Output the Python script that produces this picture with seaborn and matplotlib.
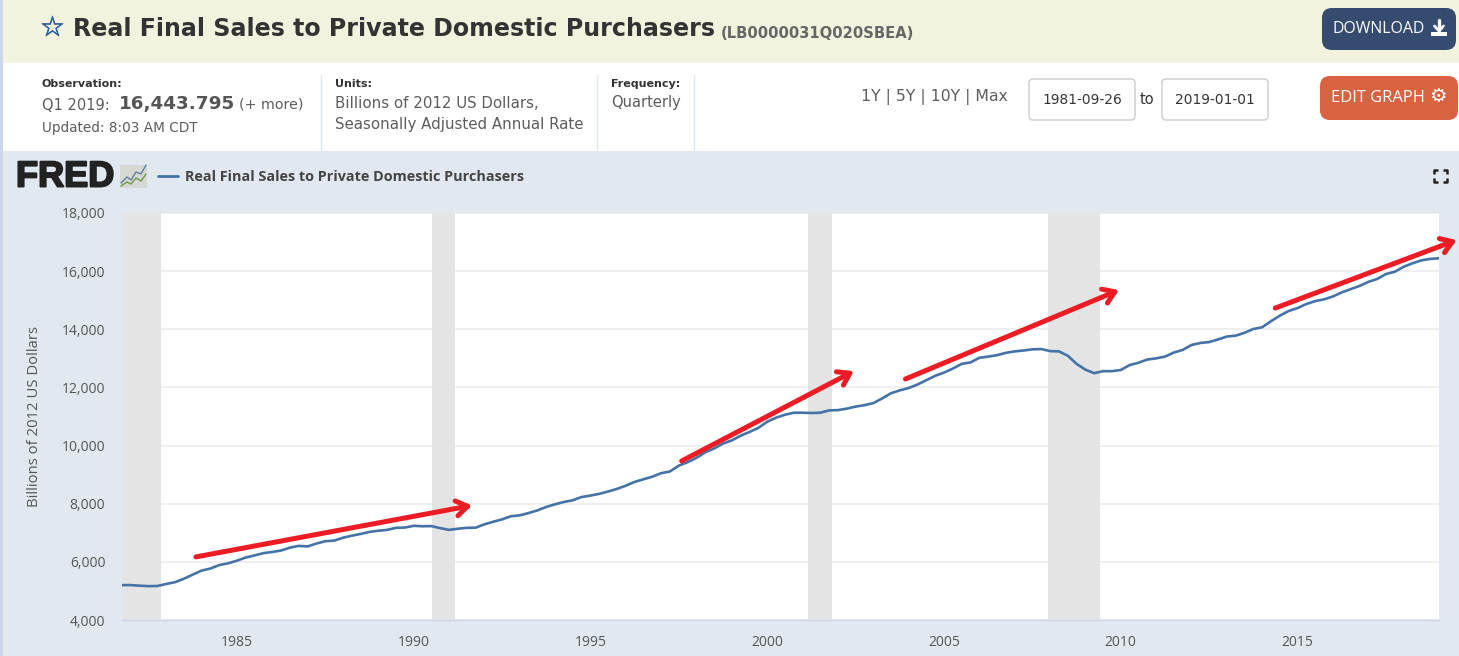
import numpy as np
import pandas as pd
import matplotlib
matplotlib.use("Agg")
import matplotlib.pyplot as plt
import matplotlib.patheffects as pe
from matplotlib.patches import FancyBboxPatch, Rectangle
import seaborn as sns

# Quarterly values, 1981 Q4 to 2019 Q1
sales = [
    5200,
    5200, 5180, 5165, 5170, 5240, 5300, 5420, 5560,
    5700, 5770, 5890, 5950, 6040, 6150, 6220, 6300,
    6340, 6390, 6490, 6550, 6530, 6630, 6710, 6730,
    6830, 6900, 6960, 7030, 7070, 7100, 7170, 7180,
    7240, 7225, 7230, 7160, 7100, 7140, 7170, 7175,
    7290, 7380, 7460, 7570, 7600, 7680, 7770, 7890,
    7980, 8060, 8120, 8230, 8280, 8340, 8420, 8510,
    8620, 8750, 8840, 8930, 9050, 9110, 9310, 9430,
    9580, 9770, 9900, 10070, 10180, 10340, 10470, 10610,
    10820, 10960, 11060, 11130, 11130, 11120, 11130, 11210,
    11220, 11270, 11340, 11390, 11460, 11620, 11800, 11900,
    11980, 12100, 12250, 12400, 12510, 12650, 12810, 12860,
    13020, 13060, 13110, 13190, 13240, 13270, 13310, 13320,
    13250, 13240, 13090, 12810, 12610, 12490, 12560, 12560,
    12600, 12770, 12850, 12960, 13000, 13060, 13200, 13290,
    13460, 13530, 13560, 13650, 13750, 13780, 13880, 14010,
    14070, 14280, 14470, 14630, 14730, 14870, 14970, 15030,
    15130, 15270, 15380, 15490, 15630, 15730, 15900, 15980,
    16150, 16270, 16370, 16420, 16444,
]
first_year = 1981.75

recession_start = [1981.75, 1990.53, 2001.15, 2007.93]
recession_end = [1982.85, 1991.17, 2001.82, 2009.42]

# Hand drawn red arrows, in chart units
arrow_x0 = [1983.84, 1997.58, 2003.91, 2014.37]
arrow_y0 = [6170, 9470, 12290, 14730]
arrow_x1 = [1991.65, 2002.45, 2009.95, 2019.5]
arrow_y1 = [7940, 12560, 15350, 17070]

x_ticks = [1985, 1990, 1995, 2000, 2005, 2010, 2015]
y_ticks = [4000, 6000, 8000, 10000, 12000, 14000, 16000, 18000]

W, H = 1459, 656
BODY = "DejaVu Sans"
GREY = "#5c5c5c"
DARK = "#333333"

sns.set_theme(style="white")
plt.rcParams["font.family"] = [BODY]

fig = plt.figure(figsize=(W / 100, H / 100), dpi=100, facecolor="white")

# Page furniture, drawn in pixel coordinates
page = fig.add_axes([0, 0, 1, 1], zorder=0)
page.set_xlim(0, W)
page.set_ylim(H, 0)
page.axis("off")

page.add_patch(Rectangle((3, 0), W, 63, color="#f2f3de", lw=0))
page.add_patch(Rectangle((3, 151), W, H - 151, color="#e1e8ef", lw=0))
page.add_patch(Rectangle((0, 0), 3, H, color="#ccd6e8", lw=0))
for x in [321, 597, 694]:
    page.plot([x, x], [75, 151], color="#e1e8ef", lw=1)


def txt(x, y, s, size, color=GREY, weight="normal", ha="left", family=BODY):
    return page.text(x, y, s, fontsize=size, color=color, fontweight=weight, ha=ha,
                     va="center", family=family)


def button(x, y, w, h, color, radius=10, edge="none"):
    page.add_patch(FancyBboxPatch((x + radius, y + radius), w - 2 * radius, h - 2 * radius,
                                  boxstyle="round,pad=%d" % radius, fc=color, ec=edge, lw=1))


# Header
star = txt(40, 28, "\u2606", 20, color="#2f5f9e")
star.set_path_effects([pe.withStroke(linewidth=0.5, foreground="#2f5f9e")])
txt(73, 29, "Real Final Sales to Private Domestic Purchasers", 17.1, color=DARK, weight="bold")
txt(721, 33, "(LB0000031Q020SBEA)", 10.6, color="#666666", weight="bold")

button(1322, 8, 134, 42, "#364b70")
txt(1333, 29, "DOWNLOAD", 11.4, color="white", family="Open Sans")
page.plot([1439, 1439], [20, 30], color="white", lw=2.4)
page.plot([1434.5, 1439, 1443.5], [26, 31, 26], color="white", lw=2)
page.add_patch(Rectangle((1431, 32), 16, 4, color="white", lw=0))

button(1320, 76, 138, 44, "#d96340")
txt(1331, 98, "EDIT GRAPH", 11.9, color="white", family="Open Sans")
txt(1429, 97, "\u2699", 14, color="white", weight="bold")

# Observation strip
txt(42, 84, "Observation:", 8, color=DARK, weight="bold")
txt(42, 105, "Q1 2019:", 10.5)
txt(119, 104, "16,443.795", 13.2, color="#555555", weight="bold")
txt(239, 105, "(+ more)", 10.3)
txt(42, 128, "Updated: 8:03 AM CDT", 9.8)
txt(335, 84, "Units:", 8, color=DARK, weight="bold")
txt(335, 103, "Billions of 2012 US Dollars,", 10.8)
txt(335, 124, "Seasonally Adjusted Annual Rate", 10.8)
txt(611, 84, "Frequency:", 8, color=DARK, weight="bold")
txt(611, 103, "Quarterly", 10.5)

txt(861, 97, "1Y | 5Y | 10Y | Max", 11.3)
button(1029, 79, 106, 41, "white", radius=4, edge="#cccccc")
txt(1082, 100, "1981-09-26", 9.9, color=DARK, ha="center")
txt(1147, 100, "to", 10.5, color=DARK, ha="center")
button(1162, 79, 106, 41, "white", radius=4, edge="#cccccc")
txt(1215, 100, "2019-01-01", 9.9, color=DARK, ha="center")

# FRED strip
logo = txt(16, 177, "FRED", 26, color="#222222", weight="bold", family="Liberation Sans")
logo.set_path_effects([pe.withStroke(linewidth=1.4, foreground="#222222")])
page.add_patch(FancyBboxPatch((121, 166), 25, 21, boxstyle="round,pad=1", fc="#d6d8d4", ec="none"))
page.plot([121, 127, 131, 136, 141, 146], [183, 177, 180, 172, 174, 165], color="#5f7fa0", lw=1)
page.plot([121, 127, 131, 136, 141, 146], [186, 182, 184, 178, 181, 174], color="#6d9a4a", lw=1)
page.plot([158, 178], [176, 176], color="#4572a7", lw=2)
txt(185, 177, "Real Final Sales to Private Domestic Purchasers", 10.4, color="#444444", weight="bold", family="Open Sans")
for cx, cy, dx, dy in [(1434, 170, 1, 1), (1447, 170, -1, 1), (1434, 182, 1, -1), (1447, 182, -1, -1)]:
    page.plot([cx + 4 * dx, cx, cx], [cy, cy, cy + 4 * dy], color="#222222", lw=1.8, solid_capstyle="butt")

# Chart
ax = fig.add_axes([122 / W, (H - 620) / H, (1439 - 122) / W, 407 / H], zorder=1)
ax.set_facecolor("white")
df = pd.DataFrame({"year": first_year + 0.25 * np.arange(len(sales)), "sales": sales})

ax.grid(axis="y", color="#ebebeb", lw=1.1)
ax.set_axisbelow(True)
for start, end in zip(recession_start, recession_end):
    ax.axvspan(start, end, color="#e4e4e4", lw=0, zorder=1)
sns.lineplot(data=df, x="year", y="sales", color="#4572a7", lw=1.9, ax=ax, zorder=3)

ax.set_xlim(first_year, 2019)
ax.set_ylim(4000, 18000)
ax.set_xticks(x_ticks)
ax.set_yticks(y_ticks)
ax.set_yticklabels([f"{v:,}" for v in y_ticks])
ax.set_xlabel("")
ax.set_ylabel("Billions of 2012 US Dollars", fontsize=10.7, color="#555555", family="Open Sans", labelpad=14)
ax.tick_params(axis="y", length=0, pad=12, labelsize=10, labelcolor="#555555")
ax.tick_params(axis="x", length=7, width=1, color="#ccd6eb", pad=4, labelsize=10, labelcolor="#555555")
for label in ax.get_xticklabels() + ax.get_yticklabels():
    label.set_family("Open Sans")
sns.despine(ax=ax, left=True, top=True, right=True)
ax.spines["bottom"].set_color("#ccd6eb")
ax.spines["bottom"].set_linewidth(1)

for x0, y0, x1, y1 in zip(arrow_x0, arrow_y0, arrow_x1, arrow_y1):
    ax.annotate("", xy=(x1, y1), xytext=(x0, y0), annotation_clip=False, zorder=5,
                arrowprops=dict(arrowstyle="->,head_length=0.45,head_width=0.3", color="#ed1c24",
                                lw=3.6, mutation_scale=18, shrinkA=0, shrinkB=0, capstyle="round"))

fig.savefig("out.png", dpi=100, facecolor="white")
